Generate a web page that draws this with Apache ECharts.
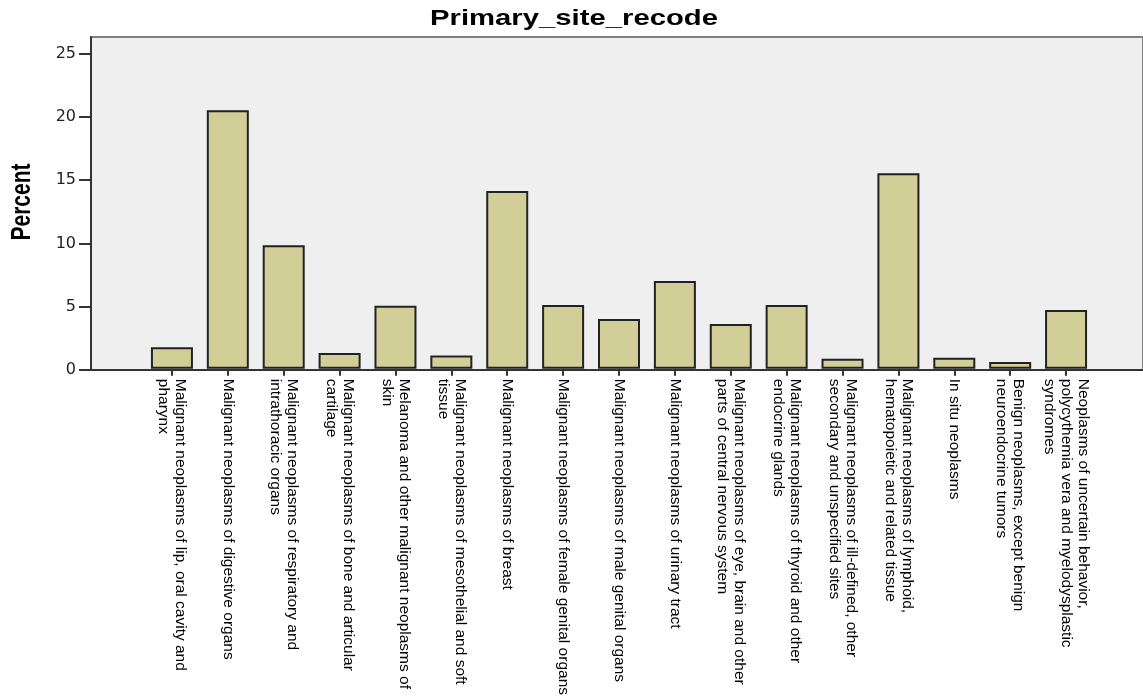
<!DOCTYPE html>
<html>
<head>
<meta charset="utf-8">
<script src="https://cdn.jsdelivr.net/npm/echarts@6/dist/echarts.min.js"></script>
<style>
html,body{margin:0;padding:0;background:#fff;}
#chart{width:1143px;height:698px;}
</style>
</head>
<body>
<div id="chart"></div>
<script>
const titleText = 'Primary_site_recode';
const yAxisTitle = 'Percent';
const categories = [
  'Malignant neoplasms of lip, oral cavity and\npharynx',
  'Malignant neoplasms of digestive organs',
  'Malignant neoplasms of respiratory and\nintrathoracic organs',
  'Malignant neoplasms of bone and articular\ncartilage',
  'Melanoma and other malignant neoplasms of\nskin',
  'Malignant neoplasms of mesothelial and soft\ntissue',
  'Malignant neoplasms of breast',
  'Malignant neoplasms of female genital organs',
  'Malignant neoplasms of male genital organs',
  'Malignant neoplasms of urinary tract',
  'Malignant neoplasms of eye, brain and other\nparts of central nervous system',
  'Malignant neoplasms of thyroid and other\nendocrine glands',
  'Malignant neoplasms of ill-defined, other\nsecondary and unspecified sites',
  'Malignant neoplasms of lymphoid,\nhematopoietic and related tissue',
  'In situ neoplasms',
  'Benign neoplasms, except benign\nneuroendocrine tumors',
  'Neoplasms of uncertain behavior,\npolycythemia vera and myelodysplastic\nsyndromes'
];
const percentValues = [1.7, 20.5, 9.8, 1.25, 5.0, 1.05, 14.1, 5.05, 3.95, 6.95, 3.55, 5.05, 0.8, 15.5, 0.87, 0.53, 4.66];
const yTicks = [0, 5, 10, 15, 20, 25];
const yMax = 26.3;

const chart = echarts.init(document.getElementById('chart'), null, {renderer: 'canvas'});
const option = {
  animation: false,
  backgroundColor: '#ffffff',
  graphic: [
    {
      type: 'text', x: 574, y: 19, scaleX: 1.33, z: 10,
      style: {text: titleText, font: 'bold 22px "Liberation Sans", Arial, sans-serif', fill: '#000', align: 'center', verticalAlign: 'middle'}
    },
    {
      type: 'text', x: 22, y: 202, rotation: Math.PI / 2, scaleY: 1.3, z: 10,
      style: {text: yAxisTitle, font: 'bold 21px "Liberation Sans", Arial, sans-serif', fill: '#000', align: 'center', verticalAlign: 'middle'}
    }
  ],
  grid: [
    {left: 91, right: 0, top: 37, bottom: 328, show: true, backgroundColor: '#efefef', borderColor: '#808080', borderWidth: 2},
    {left: 144, right: 49, top: 37, bottom: 328}
  ],
  xAxis: [
    {
      type: 'value', gridIndex: 0, min: 0, max: 1,
      axisLine: {show: true, lineStyle: {color: '#333', width: 2}},
      axisTick: {show: false}, axisLabel: {show: false}, splitLine: {show: false}
    },
    {
      type: 'category', gridIndex: 1, data: categories, boundaryGap: true,
      axisLine: {show: false},
      axisTick: {show: true, alignWithLabel: true, length: 7, lineStyle: {color: '#333', width: 2}},
      axisLabel: {
        interval: 0, rotate: -90, margin: 10, color: '#000',
        fontFamily: '"Liberation Sans", Arial, sans-serif', fontSize: 15.5, lineHeight: 17,
        padding: [10, 0, 0, 0]
      },
      splitLine: {show: false}
    }
  ],
  yAxis: [
    {
      type: 'value', gridIndex: 0, min: 0, max: yMax,
      axisLine: {show: true, lineStyle: {color: '#333', width: 2}},
      axisTick: {show: true, length: 12, customValues: yTicks, lineStyle: {color: '#333', width: 2}},
      axisLabel: {customValues: yTicks, margin: 15, color: '#222', fontFamily: '"DejaVu Sans", sans-serif', fontSize: 16},
      splitLine: {show: false}
    },
    {
      type: 'value', gridIndex: 1, min: 0, max: yMax, show: false, splitLine: {show: false}
    }
  ],
  series: [
    {
      type: 'bar', xAxisIndex: 1, yAxisIndex: 1, data: percentValues,
      barWidth: 42,
      itemStyle: {color: '#d2ce97', borderColor: '#222', borderWidth: 2}
    }
  ]
};
chart.setOption(option);
</script>
</body>
</html>
